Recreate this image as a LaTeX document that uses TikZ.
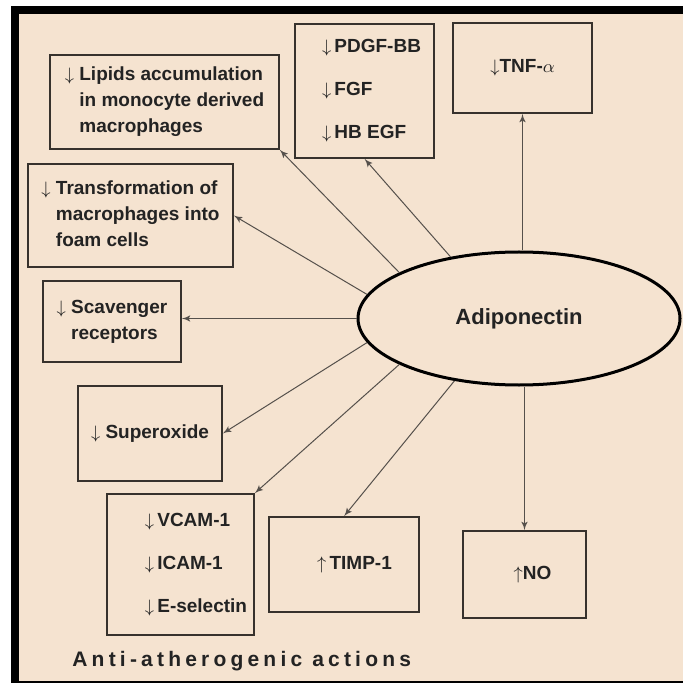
\documentclass[tikz,border=0pt]{standalone}
\usepackage{fontspec}
\setmainfont{Liberation Sans}
\newfontfamily\spacedfont[LetterSpace=20]{Liberation Sans}
\usepackage{tikz}
\usetikzlibrary{shapes,arrows}
\definecolor{paper}{RGB}{245,227,208}
\definecolor{boxline}{RGB}{55,50,45}
\definecolor{arrline}{RGB}{85,80,75}
\definecolor{ink}{RGB}{35,35,35}
\tikzstyle{block} = [rectangle, draw=boxline, line width=0.75pt, text=ink, align=left, inner sep=0pt, font={\bfseries\fontsize{9.5}{13}\selectfont}]
\tikzstyle{list} = [block, font={\bfseries\fontsize{9.5}{21.5}\selectfont}]
\tikzstyle{line} = [draw=arrline, line width=0.5pt, -latex']
\newcommand{\arrdn}{$\downarrow$}
\newcommand{\arrup}{$\uparrow$}
\newcommand{\hang}{\phantom{$\downarrow$~}}

\begin{document}
\begin{tikzpicture}[x=0.5pt, y=-0.5pt]
\useasboundingbox (0,0) rectangle (683,683);
\fill [black] (11,6) rectangle (683,683);
\fill [paper] (19,14) rectangle (683,681);

\node [block, minimum width=114.5pt, minimum height=47pt] (lipids) at (164.5,102) {\arrdn~Lipids accumulation\\\hang in monocyte derived\\\hang macrophages};
\node [block, minimum width=102.5pt, minimum height=51.5pt] (transf) at (130.5,215.5) {\arrdn~Transformation of\\\hang macrophages into\\\hang foam cells};
\node [block, minimum width=69pt, minimum height=40.5pt] (scav) at (112,321.5) {\arrdn~Scavenger\\\hang receptors};
\node [list, minimum width=69.5pt, minimum height=67pt] (pdgf) at (364.5,91) {\hspace*{7pt}\arrdn\,PDGF-BB\\\hspace*{7pt}\arrdn\,FGF\\\hspace*{7pt}\arrdn\,HB EGF};
\node [block, minimum width=69.5pt, minimum height=45pt] (tnf) at (522.5,68) {\arrdn TNF-$\alpha$};

\node [ellipse, draw=black, line width=1.5pt, minimum width=161pt, minimum height=66.5pt, text=ink, font={\bfseries\fontsize{11}{13}\selectfont}] (adipo) at (519,318.5) {Adiponectin};

\node [block, minimum width=72pt, minimum height=47.5pt] (superox) at (150,433.5) {\arrdn~Superoxide};
\node [list, minimum width=73.5pt, minimum height=70.5pt] (vcam) at (180.5,564.5) {\hspace*{15.5pt}\arrdn\,VCAM-1\\\hspace*{15.5pt}\arrdn\,ICAM-1\\\hspace*{15.5pt}\arrdn\,E-selectin};
\node [block, minimum width=75pt, minimum height=47.5pt] (timp) at (344,564.5) {\hspace*{10.5pt}\arrup\,TIMP-1};
\node [block, minimum width=61.5pt, minimum height=43.5pt] (no) at (524.5,574.5) {\hspace*{8pt}\arrup NO};

\node [anchor=west, inner sep=0pt, text=ink, font={\spacedfont\bfseries\fontsize{10.5}{12}\selectfont}] (title) at (72,661) {Anti-atherogenic actions};

\path [line] (tnf.south |- adipo.north) -- (tnf.south);
\path [line] (adipo.138.6) -- (pdgf.south);
\path [line] (adipo.159) -- (lipids.south east);
\path [line] (adipo.171.3) -- (transf.east);
\path [line] (adipo.west) -- (adipo.west -| scav.east);
\path [line] (adipo.189.8) -- (superox.east);
\path [line] (adipo.201.3) -- (vcam.north east);
\path [line] (adipo.224.8) -- (timp.north);
\path [line] (no.north |- adipo.south) -- (no.north);
\end{tikzpicture}
\end{document}
